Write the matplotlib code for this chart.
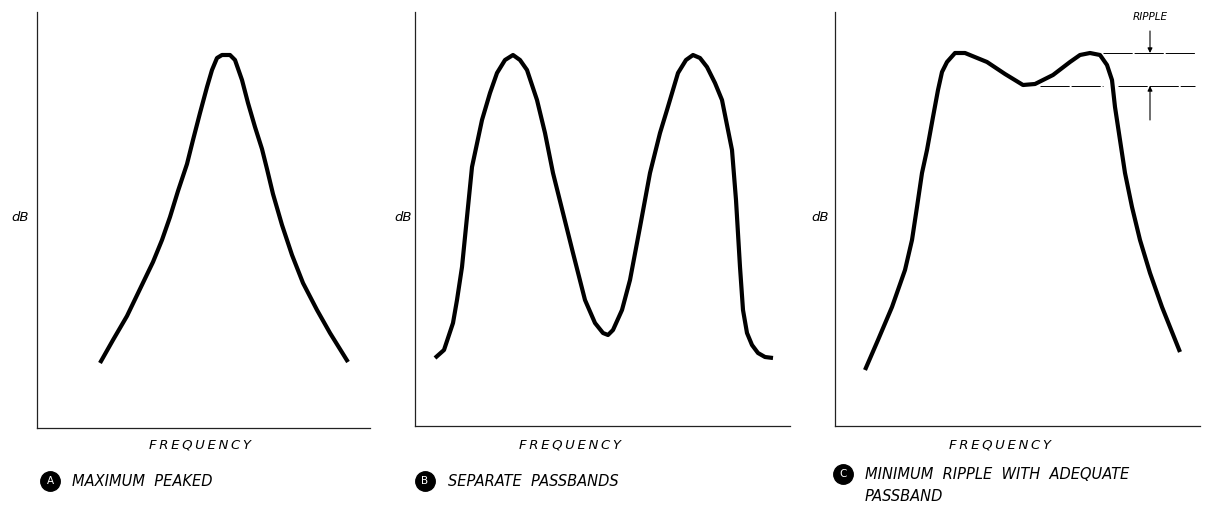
import matplotlib
matplotlib.use("Agg")
import matplotlib.pyplot as plt
from matplotlib.lines import Line2D

# curve values (frequency, dB) in arbitrary units
freq_a = [63, 76, 90, 103, 116, 125, 133, 141, 150, 156, 163, 170, 175, 180,
          185, 190, 193, 198, 205, 211, 218, 225, 230, 236, 245, 255, 266, 280,
          293, 311]
db_a = [65, 88, 112, 139, 166, 188, 211, 237, 264, 288, 315, 341, 358, 370,
        373, 373, 373, 368, 348, 325, 301, 279, 259, 234, 203, 173, 145, 118,
        95, 66]

freq_b = [20, 29, 38, 42, 47, 52, 57, 67, 75, 82, 90, 98, 105, 112, 122, 130,
          138, 148, 158, 170, 180, 188, 193, 198, 207, 215, 225, 235, 245, 252,
          263, 271, 278, 285, 292, 300, 307, 317, 321, 325, 328, 332, 337, 343,
          350, 358]
db_b = [68, 76, 103, 126, 159, 209, 259, 306, 333, 353, 366, 371, 366, 356,
        326, 293, 253, 213, 173, 126, 103, 93, 91, 96, 116, 146, 199, 253, 293,
        316, 353, 366, 371, 368, 359, 343, 326, 276, 226, 159, 116, 93, 81, 73,
        69, 68]

freq_c = [30, 43, 57, 70, 77, 82, 87, 92, 98, 103, 107, 112, 120, 130, 152,
          170, 188, 200, 218, 235, 245, 255, 265, 272, 277, 280, 285, 290, 297,
          305, 315, 327, 345]
db_c = [56, 86, 119, 156, 186, 219, 253, 276, 309, 336, 354, 364, 373, 373,
        364, 352, 341, 342, 351, 364, 371, 373, 371, 361, 346, 319, 286, 253,
        219, 186, 153, 119, 74]

ripple_top = 373
ripple_bottom = 340

captions = ["MAXIMUM  PEAKED", "SEPARATE  PASSBANDS",
            "MINIMUM  RIPPLE  WITH  ADEQUATE\nPASSBAND"]
letters = ["A", "B", "C"]

W, H = 1206, 505
fig = plt.figure(figsize=(W / 100, H / 100), dpi=100)
fig.patch.set_facecolor("white")

# axes boxes in pixels: left, top, right, bottom
boxes = [(37, 12, 370, 428), (415, 12, 790, 426), (835, 12, 1200, 426)]
curves = [(freq_a, db_a), (freq_b, db_b), (freq_c, db_c)]

font = dict(family="DejaVu Sans", style="italic", color="black")

axes = []
for (l, t, r, b), (fx, fy) in zip(boxes, curves):
    ax = fig.add_axes([l / W, 1 - b / H, (r - l) / W, (b - t) / H])
    ax.set_xlim(0, r - l)
    ax.set_ylim(0, b - t)
    for s in ["top", "right"]:
        ax.spines[s].set_visible(False)
    for s in ["left", "bottom"]:
        ax.spines[s].set_linewidth(0.9)
        ax.spines[s].set_color("#222222")
    ax.set_xticks([])
    ax.set_yticks([])
    ax.plot(fx, fy, color="black", lw=3.0, solid_capstyle="butt",
            solid_joinstyle="round")
    axes.append(ax)


def ftext(x, y, s, **kw):
    fig.text(x / W, 1 - y / H, s, **font, **kw)


# axis labels
for x in [20, 403, 820]:
    ftext(x, 218, "dB", fontsize=9.5, ha="center", va="center")
for x in [200, 570, 1000]:
    ftext(x, 445, "\u2009".join("FREQUENCY"), fontsize=9.5,
          ha="center", va="center")

# captions with circled letters
cap_pos = [(50, 72, 481), (425, 448, 481), (843, 865, 474)]
for (cx, tx, y), let, cap in zip(cap_pos, letters, captions):
    fig.add_artist(Line2D([cx / W], [1 - y / H], marker="o", ms=14,
                          color="black", transform=fig.transFigure))
    fig.text(cx / W, 1 - y / H, let, color="white", fontsize=7.5,
             family="DejaVu Sans", ha="center", va="center")
    ftext(tx, y - 7, cap, fontsize=10.5, ha="left", va="top", linespacing=1.55)

# ripple annotation on panel C
axc = axes[2]
line_kw = dict(color="black", lw=0.7, clip_on=False, dashes=(30, 2))
axc.plot([268, 360], [ripple_top, ripple_top], **line_kw)
axc.plot([205, 268], [ripple_bottom, ripple_bottom], **line_kw)
axc.plot([283, 360], [ripple_bottom, ripple_bottom], **line_kw)
axc.annotate("", xy=(315, ripple_top), xytext=(315, ripple_top + 22),
             arrowprops=dict(arrowstyle="-|>", color="black", lw=0.8,
                             mutation_scale=7, shrinkA=0, shrinkB=0),
             annotation_clip=False)
axc.annotate("", xy=(315, ripple_bottom), xytext=(315, ripple_bottom - 34),
             arrowprops=dict(arrowstyle="-|>", color="black", lw=0.8,
                             mutation_scale=7, shrinkA=0, shrinkB=0),
             annotation_clip=False)
ftext(1150, 17, "RIPPLE", fontsize=7.5, ha="center", va="center")

fig.savefig("out.png", dpi=100, facecolor="white")
